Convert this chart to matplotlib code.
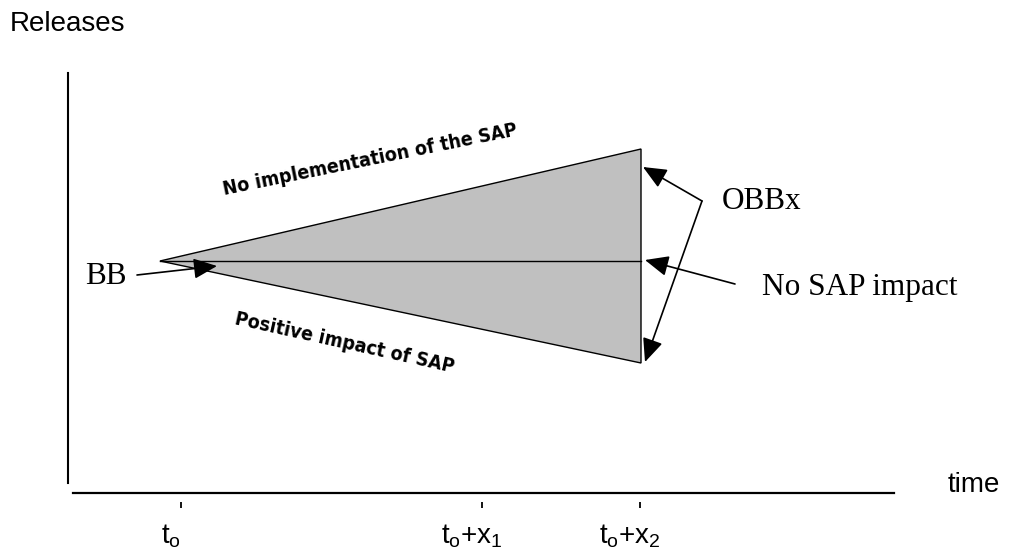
import matplotlib
matplotlib.use("Agg")
import matplotlib.pyplot as plt
from matplotlib.transforms import offset_copy
from matplotlib import font_manager

plt.rcParams['font.family'] = ['Liberation Sans', 'DejaVu Sans']
plt.rcParams['mathtext.fontset'] = 'custom'
plt.rcParams['mathtext.rm'] = 'Liberation Sans'
plt.rcParams['mathtext.it'] = 'Liberation Sans'

# schematic data (time units, release units)
tick_pos = [1.13, 4.14, 5.72]
tick_labels = [r"$\mathregular{t_o}$", r"$\mathregular{t_o{+}x_1}$", r"$\mathregular{t_o{+}x_2}$"]
bb_time, bb_level = 0.92, 2.32
end_time = 5.73
end_no_sap = 3.44      # no implementation of the SAP
end_positive = 1.30    # positive impact of SAP
end_flat = 2.32        # no SAP impact

# pick a narrow bold font for the slanted labels
cond = font_manager.FontProperties(family='DejaVu Sans', weight='bold', stretch='condensed')
if 'Condensed' in font_manager.findfont(cond, fallback_to_default=False):
    slant_font = dict(family='DejaVu Sans', fontweight='bold', fontstretch='condensed', fontsize=14)
else:
    slant_font = dict(family='Liberation Sans', fontweight='bold', fontsize=14)

fig = plt.figure(figsize=(10.15, 5.52), dpi=100)
ax = fig.add_axes([68/1015, 59/552, 826/1015, 420/552])
ax.set_xlim(0, 8.26)
ax.set_ylim(0, 4.2)

for s in ['top', 'right']:
    ax.spines[s].set_visible(False)
ax.spines['left'].set_bounds(0.1, 4.2)
ax.spines['bottom'].set_bounds(0.05, 8.26)
ax.spines['left'].set_linewidth(1.5)
ax.spines['bottom'].set_linewidth(1.6)
ax.set_xticks([])
ax.set_yticks([])

# triangle
ax.fill([bb_time, end_time, end_time], [bb_level, end_no_sap, end_positive],
        facecolor='#c0c0c0', edgecolor='black', linewidth=1.0, clip_on=False)
ax.plot([bb_time, end_time], [bb_level, end_flat], color='black', lw=1.0)

# small detached ticks and labels
ax.plot(tick_pos, [-0.12]*len(tick_pos), linestyle='none', marker='|',
        markersize=4.5, mew=1.3, color='black', clip_on=False)
lab_tr = offset_copy(ax.transData, fig=fig, x=-10, y=0, units='dots')
for x, lab in zip(tick_pos, tick_labels):
    ax.text(x, -0.50, lab, transform=lab_tr, ha='center', va='baseline',
            fontsize=20, clip_on=False)

ax.text(8.80, 0.08, "time", fontsize=20, ha='left', va='center', clip_on=False)
ax.text(-0.58, 4.69, "Releases", fontsize=20, ha='left', va='center', clip_on=False)

serif = ['Liberation Serif', 'DejaVu Serif']
ax.text(0.17, 2.17, "BB", family=serif, fontsize=22.5, ha='left', va='center')
ax.text(6.54, 2.91, "OBBx", family=serif, fontsize=22.5, ha='left', va='center')
ax.text(6.94, 2.05, "No SAP impact", family=serif, fontsize=22.5, ha='left', va='center',
        clip_on=False)

ax.text(3.02, 3.33, "No implementation of the SAP", rotation=11.5, ha='center', va='center',
        rotation_mode='anchor', **slant_font)
ax.text(2.77, 1.50, "Positive impact of SAP", rotation=-12.5, ha='center', va='center',
        rotation_mode='anchor', **slant_font)

arrow = dict(arrowstyle='-|>,head_length=0.8,head_width=0.35', mutation_scale=18,
             color='black', lw=1.2, shrinkA=0, shrinkB=0)
ax.annotate("", xy=(1.49, 2.27), xytext=(0.69, 2.18), arrowprops=arrow)
ax.annotate("", xy=(5.75, 3.26), xytext=(6.34, 2.92), arrowprops=arrow)
ax.annotate("", xy=(5.77, 1.31), xytext=(6.34, 2.92), arrowprops=arrow)
ax.annotate("", xy=(5.77, 2.33), xytext=(6.67, 2.09), arrowprops=arrow)

fig.savefig("out.png", dpi=100)
